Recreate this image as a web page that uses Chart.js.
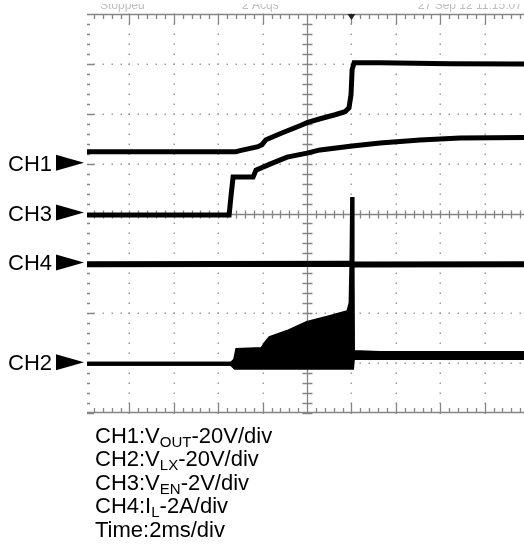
<!DOCTYPE html>
<html>
<head>
<meta charset="utf-8">
<script src="https://cdn.jsdelivr.net/npm/chart.js@4/dist/chart.umd.min.js"></script>
<style>
  html, body { margin: 0; padding: 0; background: #fff; }
  canvas { display: block; }
</style>
</head>
<body>
<canvas id="scope" width="524" height="558"></canvas>
<script>
/*
* Data (time in ms, values in channel units)
*/

// CH1: V_OUT, 20V/div
var ch1Time = [-9.91, -3.20, -3.02, -2.21, -2.03, -1.85, -1.22, -0.32, 0, 0.59, 1.26, 1.71, 1.89, 1.98, 2.03, 2.12, 3.29, 6.44, 9.77];
var ch1Volts = [4.8, 4.8, 5.2, 6.8, 7.6, 9.6, 12.0, 15.2, 16.4, 18.0, 19.6, 20.8, 22.4, 27.7, 37.7, 40.5, 40.5, 40.1, 39.9];

// CH2: V_LX, 20V/div (switching envelope)
var ch2Time = [-9.91, -3.42, -3.24, -3.15, -2.03, -1.85, -1.67, -0.90, 0, 1.04, 1.85, 1.96, 2.00, 2.03, 2.05, 2.07, 3.29, 9.77];
var ch2High = [-0.3, -0.3, 1.3, 5.3, 5.7, 8.1, 10.1, 12.5, 16.1, 18.5, 20.5, 24.1, 41.4, 66.6, 41.4, 4.5, 4.1, 4.1];
var ch2Low = [-0.3, -0.3, -1.9, -1.9, -1.9, -1.9, -1.9, -1.9, -1.9, -1.9, -1.9, -1.9, -1.9, -1.9, -1.9, 2.1, 2.1, 2.1];

// CH3: V_EN, 2V/div
var ch3Time = [-9.91, -3.51, -3.42, -3.33, -2.43, -2.30, -1.67, -0.90, 0, 0.59, 2.03, 3.29, 5.09, 6.89, 9.77];
var ch3Volts = [-0.06, -0.06, 0.74, 1.46, 1.46, 1.74, 1.98, 2.26, 2.42, 2.55, 2.71, 2.83, 2.95, 3.03, 3.05];

// CH4: I_L, 2A/div
var ch4Time = [-9.91, 2.0, 2.1, 9.77];
var ch4Amps = [-0.04, -0.02, -0.05, -0.04];

// volts (or amps) per division and ground marker position in divisions
var ch1Scale = 20, ch2Scale = 20, ch3Scale = 2, ch4Scale = 2;
var ch1Pos = 1, ch2Pos = -3, ch3Pos = 0, ch4Pos = -1;

var channelLabels = ['CH1', 'CH3', 'CH4', 'CH2'];
var channelMarks = [ch1Pos, ch3Pos, ch4Pos, ch2Pos];

var noteLines = [
  ['CH1:V', 'OUT', '-20V/div'],
  ['CH2:V', 'LX', '-20V/div'],
  ['CH3:V', 'EN', '-2V/div'],
  ['CH4:I', 'L', '-2A/div'],
  ['Time:2ms/div', '', '']
];

var msPerDiv = 2;

/*
* Helpers
*/

function toPoints(times, values, scale, pos) {
  return times.map(function(t, i) {
    return { x: t, y: pos + values[i] / scale };
  });
}

function trace(points, width, fill) {
  return {
    data: points,
    borderColor: '#000',
    backgroundColor: '#000',
    borderWidth: width,
    pointRadius: 0,
    tension: 0,
    fill: fill || false
  };
}

/*
* Graticule and labels
*/

var graticule = {
  id: 'graticule',
  beforeDatasetsDraw: function(chart) {
    var c = chart.ctx, xs = chart.scales.x, ys = chart.scales.y, a = chart.chartArea;
    var i, j, px, py;
    c.save();

    // dotted division lines
    c.fillStyle = '#9c9c9c';
    for (i = -5; i <= 5; i++) {
      if (i === 0) continue;
      px = Math.round(xs.getPixelForValue(i * msPerDiv));
      if (px < a.left || px > a.right) continue;
      for (j = -20; j <= 20; j++) {
        py = Math.round(ys.getPixelForValue(j * 0.2));
        c.fillRect(px - 0.5, py - 0.5, 1.5, 1.5);
      }
    }
    for (j = -3; j <= 3; j++) {
      if (j === 0) continue;
      py = Math.round(ys.getPixelForValue(j));
      for (i = -30; i <= 30; i++) {
        px = Math.round(xs.getPixelForValue(i * msPerDiv / 5));
        if (px < a.left || px > a.right) continue;
        c.fillRect(px - 0.5, py - 0.5, 1.5, 1.5);
      }
    }

    // center axes and border with ticks
    c.strokeStyle = '#858585';
    c.lineWidth = 1.3;
    var cx = Math.round(xs.getPixelForValue(0)) + 0.5;
    var cy = Math.round(ys.getPixelForValue(0)) + 0.5;
    c.beginPath();
    c.moveTo(a.left, cy); c.lineTo(a.right, cy);
    c.moveTo(cx, a.top); c.lineTo(cx, a.bottom);
    c.moveTo(a.left, a.top + 0.5); c.lineTo(a.right, a.top + 0.5);
    c.moveTo(a.left, a.bottom - 0.5); c.lineTo(a.right, a.bottom - 0.5);
    for (i = -30; i <= 30; i++) {
      px = Math.round(xs.getPixelForValue(i * msPerDiv / 5)) + 0.5;
      if (px < a.left || px > a.right) continue;
      var major = i % 5 === 0;
      c.moveTo(px, cy - 4); c.lineTo(px, cy + 4);
      c.moveTo(px, a.top); c.lineTo(px, a.top + (major ? 10 : 5));
      c.moveTo(px, a.bottom); c.lineTo(px, a.bottom - (major ? 10 : 5));
    }
    for (j = -20; j <= 20; j++) {
      py = Math.round(ys.getPixelForValue(j * 0.2)) + 0.5;
      c.moveTo(cx - 5, py); c.lineTo(cx + 5, py);
      c.moveTo(a.left, py); c.lineTo(a.left + (j % 5 === 0 ? 7 : 3), py);
    }
    c.stroke();

    // trigger marker
    px = xs.getPixelForValue(msPerDiv);
    c.fillStyle = '#222';
    c.beginPath();
    c.moveTo(px - 4, a.top); c.lineTo(px + 4, a.top); c.lineTo(px, a.top + 6);
    c.closePath(); c.fill();

    // faded status line, cut at the top edge as in the capture
    c.fillStyle = '#bdbdbd';
    c.font = '12px "Liberation Sans", Arial, sans-serif';
    c.textBaseline = 'alphabetic';
    c.fillText('Stopped', 100, 9);
    c.fillText('2 Acqs', 242, 9);
    c.fillText('27 Sep 12 11:15:07', 418, 9);
    c.fillStyle = '#fff';
    c.fillRect(0, 0, chart.width, 4);
    c.restore();
  },
  afterDraw: function(chart) {
    var c = chart.ctx, ys = chart.scales.y, a = chart.chartArea;
    c.save();
    c.fillStyle = '#000';
    c.textBaseline = 'alphabetic';
    channelLabels.forEach(function(name, k) {
      var py = ys.getPixelForValue(channelMarks[k]) - 1;
      c.font = '22px "Liberation Sans", Arial, sans-serif';
      c.fillText(name, 8, py + 8);
      c.beginPath();
      c.moveTo(56, py - 8); c.lineTo(a.left - 3, py); c.lineTo(56, py + 8);
      c.closePath(); c.fill();
    });
    noteLines.forEach(function(parts, k) {
      var x = 95, base = 443 + k * 23.4;
      c.font = '22px "Liberation Sans", Arial, sans-serif';
      c.fillText(parts[0], x, base);
      x += c.measureText(parts[0]).width;
      if (parts[1]) {
        c.font = '15px "Liberation Sans", Arial, sans-serif';
        c.fillText(parts[1], x, base + 4);
        x += c.measureText(parts[1]).width;
        c.font = '22px "Liberation Sans", Arial, sans-serif';
        c.fillText(parts[2], x, base);
      }
    });
    c.restore();
  }
};

/*
* Chart
*/

var ctx = document.getElementById('scope').getContext('2d');
var chart = new Chart(ctx, {
  type: 'line',
  data: {
    datasets: [
      trace(toPoints(ch1Time, ch1Volts, ch1Scale, ch1Pos), 5),
      trace(toPoints(ch3Time, ch3Volts, ch3Scale, ch3Pos), 5),
      trace(toPoints(ch4Time, ch4Amps, ch4Scale, ch4Pos), 6),
      trace(toPoints(ch2Time, ch2High, ch2Scale, ch2Pos), 4),
      trace(toPoints(ch2Time, ch2Low, ch2Scale, ch2Pos), 4, '-1')
    ]
  },
  options: {
    responsive: false,
    animation: false,
    layout: { padding: { left: 87, top: 14, right: 0, bottom: 145 } },
    scales: {
      x: { type: 'linear', display: false, min: -9.91, max: 9.77 },
      y: { display: false, min: -4, max: 4 }
    },
    plugins: {
      legend: { display: false },
      tooltip: { enabled: false }
    }
  },
  plugins: [graticule]
});
</script>
</body>
</html>
